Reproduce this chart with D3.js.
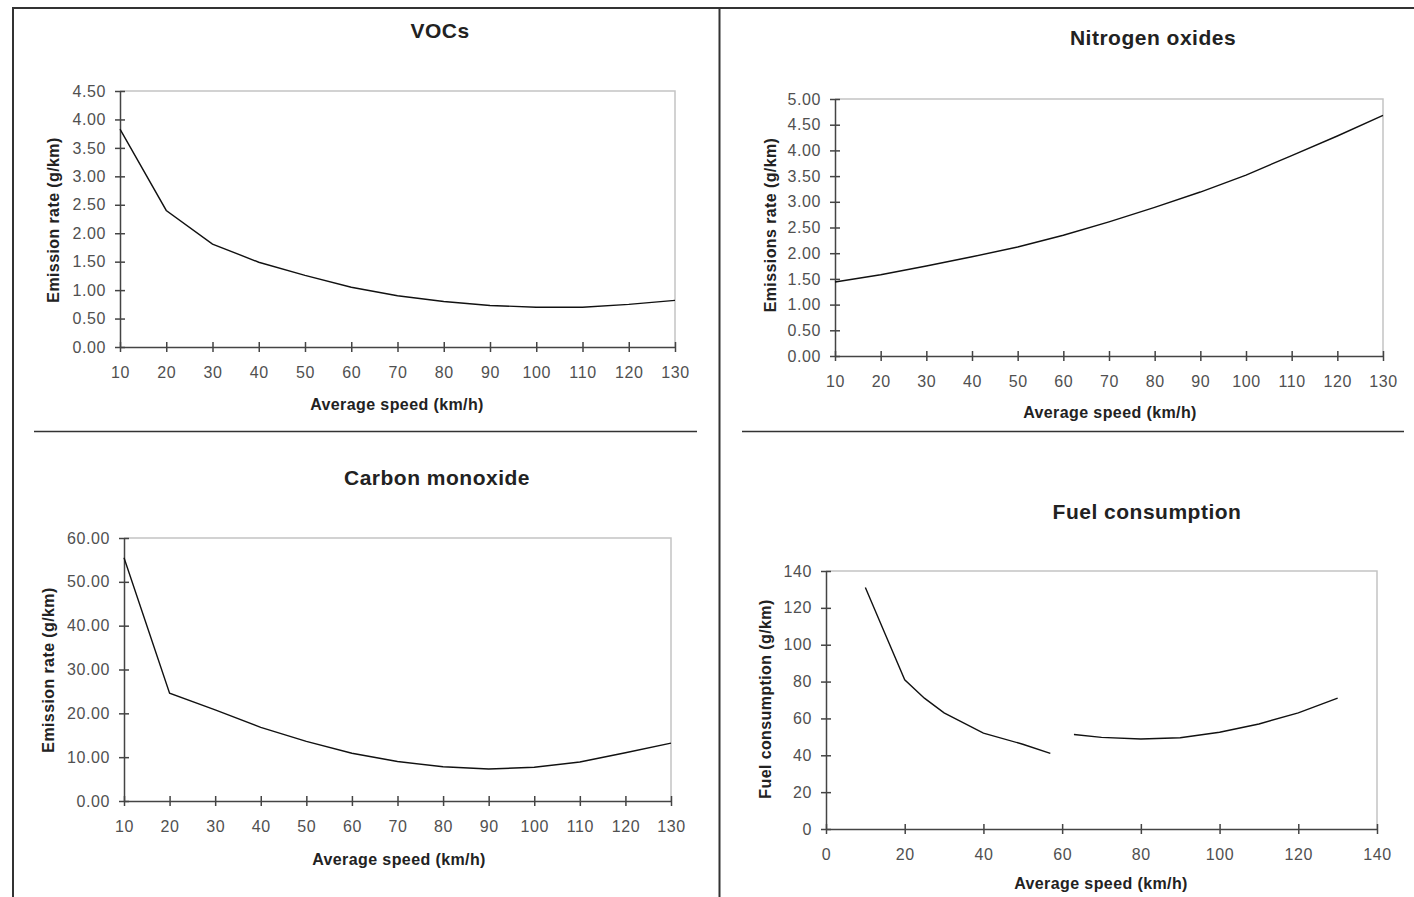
<!DOCTYPE html>
<meta charset="utf-8">
<head>
	<style>
		body {
			margin: 0;
			background: white;
			font-family: "Liberation Sans", Arial, sans-serif;
		}
		.tick text {
			font-size: 16px;
			fill: #505050;
			letter-spacing: 0.6px;
		}
		.title {
			font-size: 21px;
			font-weight: bold;
			fill: #222;
			letter-spacing: 0.5px;
		}
		.axis-title {
			font-size: 16px;
			font-weight: bold;
			fill: #222;
			letter-spacing: 0.4px;
		}
	</style>
	<script src="https://cdn.jsdelivr.net/npm/d3@7"></script>
</head>
<body>
	<svg id="vis"></svg>
</body>
<script>

// speeds (km/h) shared by the three emission charts
const speeds = [10, 20, 30, 40, 50, 60, 70, 80, 90, 100, 110, 120, 130]

const vocValues = [3.83, 2.40, 1.81, 1.49, 1.26, 1.05, 0.90, 0.80, 0.73, 0.70, 0.70, 0.75, 0.82]
const noxValues = [1.44, 1.58, 1.75, 1.93, 2.12, 2.35, 2.61, 2.89, 3.19, 3.52, 3.90, 4.28, 4.68]
const coValues = [55.5, 24.6, 20.8, 16.8, 13.6, 10.9, 9.0, 7.8, 7.3, 7.7, 8.9, 11.0, 13.2]

// fuel consumption is drawn as two separate pieces (gap around 60 km/h)
const fuelSpeedsLow = [10, 15, 20, 25, 30, 40, 50, 57]
const fuelValuesLow = [131, 106, 81, 71, 63, 52, 46, 41]
const fuelSpeedsHigh = [63, 70, 80, 90, 100, 110, 120, 130]
const fuelValuesHigh = [51.3, 49.7, 48.8, 49.5, 52.5, 57, 63, 71]

// tick labels
const speedTicks = [10, 20, 30, 40, 50, 60, 70, 80, 90, 100, 110, 120, 130]
const fuelSpeedTicks = [0, 20, 40, 60, 80, 100, 120, 140]
const vocTicks = [0, 0.5, 1, 1.5, 2, 2.5, 3, 3.5, 4, 4.5]
const noxTicks = [0, 0.5, 1, 1.5, 2, 2.5, 3, 3.5, 4, 4.5, 5]
const coTicks = [0, 10, 20, 30, 40, 50, 60]
const fuelTicks = [0, 20, 40, 60, 80, 100, 120, 140]

let width = 1414
let height = 897
let svg = d3.select("#vis")
	.attr("width", width)
	.attr("height", height)

// page frame: top, left and the middle divider
svg.append("line").attr("x1", 12).attr("x2", width).attr("y1", 8).attr("y2", 8)
	.attr("stroke", "#333").attr("stroke-width", 2)
svg.append("line").attr("x1", 13).attr("x2", 13).attr("y1", 8).attr("y2", height)
	.attr("stroke", "#333").attr("stroke-width", 2)
svg.append("line").attr("x1", 719.5).attr("x2", 719.5).attr("y1", 8).attr("y2", height)
	.attr("stroke", "#333").attr("stroke-width", 2)

// separators between top and bottom rows
svg.append("line").attr("x1", 34).attr("x2", 697).attr("y1", 431.5).attr("y2", 431.5)
	.attr("stroke", "#333").attr("stroke-width", 1.3)
svg.append("line").attr("x1", 742).attr("x2", 1404).attr("y1", 431.5).attr("y2", 431.5)
	.attr("stroke", "#333").attr("stroke-width", 1.3)

let panels = [
	{
		title: "VOCs", titleX: 440, titleY: 37.5,
		yLabel: "Emission rate (g/km)", yLabelX: 53, yLabelY: 220,
		xLabelX: 397, xLabelY: 410,
		left: 120, right: 675, top: 91, bottom: 347,
		xDomain: [10, 130], yDomain: [0, 4.5],
		xTicks: speedTicks, yTicks: vocTicks, yFormat: d3.format(".2f"),
		series: [{ x: speeds, y: vocValues }]
	},
	{
		title: "Nitrogen oxides", titleX: 1153, titleY: 44.5,
		yLabel: "Emissions rate (g/km)", yLabelX: 770, yLabelY: 225,
		xLabelX: 1110, xLabelY: 418,
		left: 835, right: 1383, top: 99, bottom: 356,
		xDomain: [10, 130], yDomain: [0, 5],
		xTicks: speedTicks, yTicks: noxTicks, yFormat: d3.format(".2f"),
		series: [{ x: speeds, y: noxValues }]
	},
	{
		title: "Carbon monoxide", titleX: 437, titleY: 484.5,
		yLabel: "Emission rate (g/km)", yLabelX: 48, yLabelY: 670,
		xLabelX: 399, xLabelY: 865,
		left: 124, right: 671, top: 538, bottom: 801,
		xDomain: [10, 130], yDomain: [0, 60],
		xTicks: speedTicks, yTicks: coTicks, yFormat: d3.format(".2f"),
		series: [{ x: speeds, y: coValues }]
	},
	{
		title: "Fuel consumption", titleX: 1147, titleY: 518.5,
		yLabel: "Fuel consumption (g/km)", yLabelX: 765, yLabelY: 699,
		xLabelX: 1101, xLabelY: 889,
		left: 826, right: 1377, top: 571, bottom: 829,
		xDomain: [0, 140], yDomain: [0, 140],
		xTicks: fuelSpeedTicks, yTicks: fuelTicks, yFormat: d3.format("d"),
		series: [
			{ x: fuelSpeedsLow, y: fuelValuesLow },
			{ x: fuelSpeedsHigh, y: fuelValuesHigh }
		]
	}
]

function drawPanel(p) {
	let xScale = d3.scaleLinear().domain(p.xDomain).range([p.left, p.right])
	let yScale = d3.scaleLinear().domain(p.yDomain).range([p.bottom, p.top])

	// light top / right border of the plot area
	svg.append("path")
		.attr("d", `M${p.left},${p.top}H${p.right}V${p.bottom}`)
		.attr("fill", "none")
		.attr("stroke", "#c4c4c4")
		.attr("stroke-width", 1.5)

	// y axis, ticks cross the axis line
	let axisY = d3.axisLeft(yScale)
		.tickValues(p.yTicks)
		.tickFormat(p.yFormat)
		.tickSizeOuter(0)
		.tickSizeInner(5)
		.tickPadding(9)
	let gy = svg.append("g")
		.attr("transform", `translate(${p.left},0)`)
		.call(axisY)
	gy.selectAll(".tick line").attr("x1", 5)

	let axisX = d3.axisBottom(xScale)
		.tickValues(p.xTicks)
		.tickSizeOuter(0)
		.tickSizeInner(5)
		.tickPadding(15)
	let gx = svg.append("g")
		.attr("transform", `translate(0,${p.bottom})`)
		.call(axisX)
	gx.selectAll(".tick line").attr("y1", -5)

	svg.selectAll(".domain, .tick line")
		.attr("stroke", "#444")
		.attr("stroke-width", 1.5)
	svg.selectAll(".tick text").attr("font-family", null).attr("font-size", null)

	let line = d3.line()
		.x(d => xScale(d[0]))
		.y(d => yScale(d[1]))

	p.series.forEach(s => {
		svg.append("path")
			.datum(d3.zip(s.x, s.y))
			.attr("d", line)
			.attr("fill", "none")
			.attr("stroke", "#111")
			.attr("stroke-width", 1.4)
	})

	svg.append("text")
		.attr("class", "title")
		.attr("x", p.titleX)
		.attr("y", p.titleY)
		.attr("text-anchor", "middle")
		.text(p.title)

	svg.append("text")
		.attr("class", "axis-title")
		.attr("x", p.xLabelX)
		.attr("y", p.xLabelY)
		.attr("text-anchor", "middle")
		.text("Average speed (km/h)")

	svg.append("text")
		.attr("class", "axis-title")
		.attr("transform", `translate(${p.yLabelX},${p.yLabelY}) rotate(-90)`)
		.attr("text-anchor", "middle")
		.attr("dominant-baseline", "central")
		.text(p.yLabel)
}

panels.forEach(drawPanel)

</script>
